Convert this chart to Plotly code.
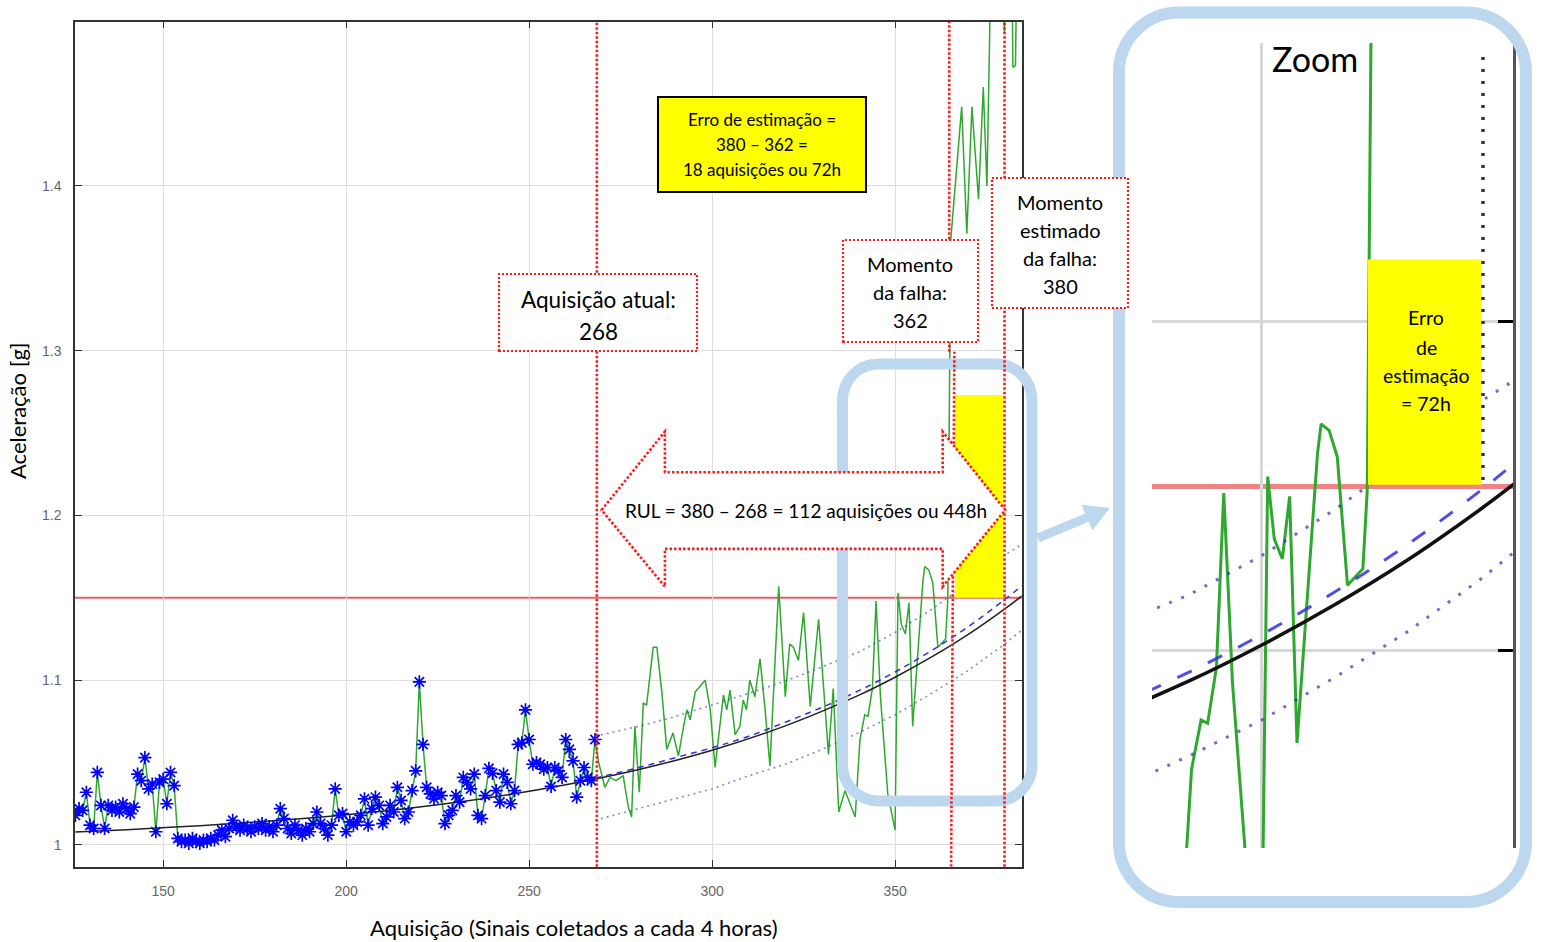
import plotly.graph_objects as go

W, H = 1541, 942
FONT = "Lato"

# ---------------- data ----------------
# measured acquisitions 126..268 (blue asterisks + green line)
meas_y = [
    1.018, 1.022, 1.021, 1.032, 1.012, 1.010, 1.044, 1.024, 1.010, 1.024,
    1.021, 1.023, 1.020, 1.025, 1.022, 1.019, 1.023, 1.043, 1.039, 1.053,
    1.034, 1.037, 1.008, 1.038, 1.040, 1.025, 1.044, 1.036, 1.004, 1.002,
    1.003, 1.001, 1.004, 1.002, 1.001, 1.003, 1.002, 1.004, 1.003, 1.006,
    1.009, 1.005, 1.010, 1.015, 1.011, 1.009, 1.012, 1.010, 1.008, 1.011,
    1.010, 1.013, 1.009, 1.011, 1.008, 1.012, 1.022, 1.016, 1.010, 1.007,
    1.012, 1.009, 1.006, 1.010, 1.008, 1.013, 1.020, 1.013, 1.010, 1.006,
    1.012, 1.034, 1.018, 1.019, 1.008, 1.014, 1.012, 1.014, 1.018, 1.028,
    1.012, 1.022, 1.029, 1.024, 1.013, 1.017, 1.024, 1.020, 1.035, 1.027,
    1.016, 1.020, 1.033, 1.045, 1.099, 1.061, 1.035, 1.031, 1.028, 1.032,
    1.030, 1.013, 1.018, 1.021, 1.030, 1.026, 1.041, 1.038, 1.034, 1.043,
    1.018, 1.016, 1.030, 1.0465, 1.0435, 1.033, 1.026, 1.043, 1.038, 1.025,
    1.033, 1.061, 1.062, 1.082, 1.064, 1.049, 1.050, 1.049, 1.046, 1.047,
    1.0355, 1.047, 1.045, 1.041, 1.064, 1.058, 1.051, 1.029, 1.039, 1.047,
    1.041, 1.039, 1.064,
]
meas_x = list(range(126, 126 + len(meas_y)))

# actual signal after the current acquisition (green line only)
post_x = [269.0, 270.7, 272.1, 273.7, 275.7, 277.1, 278.0, 278.9, 280.1, 281.2,
          282.1, 283.9, 284.9, 286.3, 287.6, 289.3, 290.8, 292.2, 293.1, 294.0,
          295.4, 298.1, 299.5, 300.8, 302.2, 303.1, 304.0, 304.9, 306.3, 307.6,
          308.5, 309.4, 310.3, 311.7, 313.1, 314.4, 315.8, 316.7, 318.2, 320.0,
          321.2, 322.2, 323.6, 325.0, 326.8, 329.1, 330.5, 331.8, 333.1, 334.6,
          336.3, 339.1, 340.4, 341.7, 342.6, 343.8, 344.8, 346.0, 348.0, 350.0,
          350.8, 351.7, 352.8, 353.8, 354.8, 356.1, 357.6, 358.1, 359.2, 360.3,
          361.7, 363.8, 364.4, 365.2, 368.2, 369.6, 371.0, 372.8, 374.1, 375.1,
          376.4, 378.0, 379.9, 380.8, 381.8, 382.2, 382.9, 383.4, 384.5]
post_y = [1.050, 1.035, 1.041, 1.039, 1.042, 1.023, 1.017, 1.072, 1.032, 1.086,
          1.085, 1.120, 1.120, 1.092, 1.058, 1.068, 1.054, 1.072, 1.082, 1.076,
          1.093, 1.100, 1.082, 1.047, 1.076, 1.091, 1.082, 1.094, 1.067, 1.072,
          1.088, 1.082, 1.100, 1.090, 1.113, 1.084, 1.048, 1.088, 1.157, 1.090,
          1.122, 1.120, 1.112, 1.141, 1.084, 1.137, 1.096, 1.055, 1.095, 1.020,
          1.033, 1.017, 1.064, 1.079, 1.078, 1.095, 1.148, 1.090, 1.031, 1.009,
          1.153, 1.134, 1.128, 1.147, 1.072, 1.112, 1.160, 1.169, 1.167, 1.159,
          1.120, 1.125, 1.149, 1.367, 1.448, 1.371, 1.448, 1.392, 1.460, 1.400,
          1.560, 1.600, 1.493, 1.600, 1.560, 1.472, 1.473, 1.560, 1.620]

green_x = meas_x + post_x
green_y = meas_y + post_y

# exponential trend (black)
trend_x = [126, 140, 160, 180, 200, 220, 240, 260, 280, 300, 320, 340, 350, 360, 370, 380, 385]
trend_y = [1.0079, 1.0093, 1.0117, 1.0147, 1.0184, 1.0231, 1.0290, 1.0365, 1.0458, 1.0575,
           1.0723, 1.0908, 1.1018, 1.1141, 1.1278, 1.1433, 1.1517]

# prediction (blue dashed) and bounds (dotted)
pred_x = [268, 280, 290, 300, 310, 320, 330, 340, 350, 360, 370, 380, 385]
pred_y = [1.0405, 1.047, 1.053, 1.059, 1.066, 1.0745, 1.0835, 1.0935, 1.105, 1.118, 1.1325, 1.149, 1.158]
upper_y = [1.066, 1.072, 1.078, 1.085, 1.092, 1.0995, 1.108, 1.117, 1.129, 1.143, 1.159, 1.176, 1.183]
lower_y = [1.015, 1.022, 1.028, 1.034, 1.042, 1.049, 1.058, 1.068, 1.079, 1.092, 1.106, 1.122, 1.131]

threshold = 1.15
current_acq = 268.5
estimated_acq = 379.9

x_ticks = [150, 200, 250, 300, 350]
y_ticks = [1.0, 1.1, 1.2, 1.3, 1.4]
y_ticktext = ["1", "1.1", "1.2", "1.3", "1.4"]

# ---------------- helpers ----------------
def px(xp):
    return xp / W

def py(yp):
    return 1 - yp / H

def pt(xp, yp):
    return f"{xp / W:.5f},{1 - yp / H:.5f}"

def rrect(x0, y0, x1, y1, r):
    k = 0.5523 * r
    return (f"M {pt(x0 + r, y0)} L {pt(x1 - r, y0)} "
            f"C {pt(x1 - r + k, y0)} {pt(x1, y0 + r - k)} {pt(x1, y0 + r)} "
            f"L {pt(x1, y1 - r)} "
            f"C {pt(x1, y1 - r + k)} {pt(x1 - r + k, y1)} {pt(x1 - r, y1)} "
            f"L {pt(x0 + r, y1)} "
            f"C {pt(x0 + r - k, y1)} {pt(x0, y1 - r + k)} {pt(x0, y1 - r)} "
            f"L {pt(x0, y0 + r)} "
            f"C {pt(x0, y0 + r - k)} {pt(x0 + r - k, y0)} {pt(x0 + r, y0)} Z")

def txt(xp, yp, text, size, color="black"):
    return dict(x=px(xp), y=py(yp), xref="paper", yref="paper", text=text,
                showarrow=False, xanchor="center", yanchor="middle",
                font=dict(family=FONT, size=size, color=color))

GREEN = "#2ea82e"
BLUE_BOX = "#BDD7EE"
RED = "#ff1a1a"

fig = go.Figure()

# ---------------- main plot traces ----------------
fig.add_trace(go.Scatter(x=green_x, y=green_y, mode="lines",
                         line=dict(color=GREEN, width=1.5), xaxis="x", yaxis="y"))
fig.add_trace(go.Scatter(x=pred_x, y=upper_y, mode="lines",
                         line=dict(color="rgba(70,70,180,0.65)", width=1.6, dash="2px,4px"),
                         xaxis="x", yaxis="y"))
fig.add_trace(go.Scatter(x=pred_x, y=lower_y, mode="lines",
                         line=dict(color="rgba(70,70,180,0.65)", width=1.6, dash="2px,4px"),
                         xaxis="x", yaxis="y"))
fig.add_trace(go.Scatter(x=trend_x, y=trend_y, mode="lines",
                         line=dict(color="#222222", width=1.5, shape="spline"),
                         xaxis="x", yaxis="y"))
fig.add_trace(go.Scatter(x=pred_x, y=pred_y, mode="lines",
                         line=dict(color="rgb(50,50,210)", width=1.5, dash="6px,5px", shape="spline"),
                         xaxis="x", yaxis="y"))
fig.add_trace(go.Scatter(x=meas_x, y=meas_y, mode="markers",
                         marker=dict(symbol="asterisk-open", size=11, color="blue",
                                     line=dict(width=1.7, color="blue")),
                         xaxis="x", yaxis="y"))

# ---------------- zoom traces ----------------
fig.add_trace(go.Scatter(x=green_x, y=green_y, mode="lines",
                         line=dict(color=GREEN, width=3), xaxis="x2", yaxis="y2"))
fig.add_trace(go.Scatter(x=pred_x, y=upper_y, mode="lines",
                         line=dict(color="rgba(50,50,170,0.7)", width=3, dash="3px,10px"),
                         xaxis="x2", yaxis="y2"))
fig.add_trace(go.Scatter(x=pred_x, y=lower_y, mode="lines",
                         line=dict(color="rgba(50,50,170,0.7)", width=3, dash="3px,10px"),
                         xaxis="x2", yaxis="y2"))
fig.add_trace(go.Scatter(x=trend_x, y=trend_y, mode="lines",
                         line=dict(color="#111111", width=3.5, shape="spline"),
                         xaxis="x2", yaxis="y2"))
fig.add_trace(go.Scatter(x=pred_x, y=pred_y, mode="lines",
                         line=dict(color="rgba(50,50,220,0.85)", width=3, dash="16px,18px", shape="spline"),
                         xaxis="x2", yaxis="y2"))

# ---------------- shapes ----------------
shapes = []
shapes.append(dict(type="line", xref="x domain", yref="y", x0=0, x1=1, y0=threshold, y1=threshold,
                   line=dict(color="rgba(228,80,80,0.9)", width=2), layer="below"))
shapes.append(dict(type="line", xref="x2 domain", yref="y2", x0=0, x1=1, y0=threshold, y1=threshold,
                   line=dict(color="rgba(235,90,90,0.75)", width=5), layer="below"))
shapes.append(dict(type="rect", xref="x", yref="y", x0=366.4, x1=379.6, y0=threshold, y1=1.2731,
                   fillcolor="#ffff00", line=dict(width=0), layer="above"))
shapes.append(dict(type="rect", xref="x2", yref="y2", x0=364.5, x1=380.0, y0=1.1505, y1=1.219,
                   fillcolor="#ffff00", line=dict(width=0), layer="above"))
shapes.append(dict(type="line", xref="x2", yref="y2", x0=380.2, x1=380.2, y0=1.152, y1=1.282,
                   line=dict(color="#333333", width=3.5, dash="3px,9px"), layer="above"))
shapes.append(dict(type="path", xref="paper", yref="paper", path=rrect(842.5, 364, 1032, 801, 36),
                   line=dict(color=BLUE_BOX, width=11), layer="above"))
shapes.append(dict(type="path", xref="paper", yref="paper", path=rrect(1119, 12.5, 1526, 902, 60),
                   line=dict(color=BLUE_BOX, width=12), layer="above"))
arrow_pts = [(1036.3, 533.8), (1085.2, 513.4), (1081.5, 504.7), (1110, 508),
             (1092.3, 530.5), (1088.6, 521.8), (1039.7, 542.2)]
shapes.append(dict(type="path", xref="paper", yref="paper",
                   path="M " + " L ".join(pt(a, b) for a, b in arrow_pts) + " Z",
                   fillcolor=BLUE_BOX, line=dict(width=0), layer="above"))
dotred = dict(color=RED, width=2.6, dash="2.5px,2px")
shapes.append(dict(type="line", xref="x", yref="y domain", x0=current_acq, x1=current_acq, y0=0, y1=1,
                   line=dotred, layer="above"))
shapes.append(dict(type="line", xref="x", yref="y", x0=364.8, x1=364.8, y0=1.2994, y1=1.4997,
                   line=dotred, layer="above"))
shapes.append(dict(type="line", xref="x", yref="y", x0=365.3, x1=366.2, y0=0.9868, y1=1.2994,
                   line=dotred, layer="above"))
shapes.append(dict(type="line", xref="x", yref="y domain", x0=estimated_acq, x1=estimated_acq, y0=0, y1=1,
                   line=dotred, layer="above"))
boxline = dict(color=RED, width=2.2, dash="2px,2px")
for (x0, y0, x1, y1) in [(499, 274, 697, 351), (843, 240, 978, 342), (992, 178, 1128, 308)]:
    shapes.append(dict(type="rect", xref="paper", yref="paper", x0=px(x0), x1=px(x1), y0=py(y1), y1=py(y0),
                       fillcolor="white", line=boxline, layer="above"))
shapes.append(dict(type="rect", xref="paper", yref="paper", x0=px(658), x1=px(866), y0=py(192), y1=py(97),
                   fillcolor="#ffff00", line=dict(color="black", width=2), layer="above"))
rul = [(269.8, 1.2033), (287.1, 1.2509), (287.1, 1.2262), (363.0, 1.2262), (363.0, 1.2509),
       (380.1, 1.2033), (363.0, 1.1568), (363.0, 1.1797), (287.1, 1.1797), (287.1, 1.1568)]
shapes.append(dict(type="path", xref="x", yref="y",
                   path="M " + " L ".join(f"{a},{b}" for a, b in rul) + " Z",
                   fillcolor="white", line=dict(color=RED, width=2.6, dash="2.5px,2px"), layer="above"))

# ---------------- annotations ----------------
ann = []
ann += [txt(598, 300, "Aquisição atual:", 22.5), txt(598, 331, "268", 22.5)]
ann += [txt(762, 120, "Erro de estimação =", 17), txt(762, 145, "380 – 362 =", 17),
        txt(762, 170, "18 aquisições ou 72h", 17)]
ann += [txt(910, 264, "Momento", 20), txt(910, 292, "da falha:", 20), txt(910, 320, "362", 20)]
ann += [txt(1060, 202, "Momento", 20), txt(1060, 230, "estimado", 20),
        txt(1060, 258, "da falha:", 20), txt(1060, 286, "380", 20)]
ann += [txt(806, 510, "RUL = 380 – 268 = 112 aquisições ou 448h", 19)]
ann += [txt(1315, 59, "Zoom", 34)]
ann += [txt(1426, 318, "Erro", 19.5), txt(1426, 347, "de", 19.5), txt(1426, 375, "estimação", 19.5),
        txt(1426, 403, "= 72h", 19.5)]
ann += [txt(574, 927, "Aquisição (Sinais coletados a cada 4 horas)", 22)]
a = txt(17, 411, "Aceleração [g]", 22)
a["textangle"] = -90
ann.append(a)

tickfont = dict(family="Liberation Sans", size=14, color="#666666")

fig.update_layout(
    width=W, height=H, margin=dict(l=0, r=0, t=0, b=0),
    paper_bgcolor="white", plot_bgcolor="white", showlegend=False,
    shapes=shapes, annotations=ann,
    xaxis=dict(domain=[75 / W, 1021.7 / W], range=[125.9, 384.6], tickvals=x_ticks,
               showgrid=True, gridcolor="#dedede", gridwidth=1, zeroline=False,
               showline=True, linecolor="#333333", linewidth=1.5, mirror="ticks",
               ticks="inside", ticklen=7, tickcolor="#333333", tickfont=tickfont,
               ticklabelstandoff=11, anchor="y"),
    yaxis=dict(domain=[1 - 866.7 / H, 1 - 21.7 / H], range=[0.9868, 1.4997], tickvals=y_ticks,
               ticktext=y_ticktext, showgrid=True, gridcolor="#dedede", gridwidth=1, zeroline=False,
               showline=True, linecolor="#333333", linewidth=1.5, mirror="ticks",
               ticks="inside", ticklen=7, tickcolor="#333333", tickfont=tickfont,
               ticklabelstandoff=9, anchor="x"),
    xaxis2=dict(domain=[1152 / W, 1513 / W], range=[335.0, 384.3], tickvals=[350],
                showticklabels=False, ticks="", showgrid=True, gridcolor="#d8d8d8", gridwidth=2.5,
                zeroline=False, showline=False, anchor="y2"),
    yaxis2=dict(domain=[1 - 848 / H, 1 - 43 / H], range=[1.0401, 1.2848], tickvals=[1.1, 1.2],
                showticklabels=False, side="right", showline=True, linecolor="#555555", linewidth=3,
                ticks="inside", ticklen=15, tickwidth=3, tickcolor="black",
                showgrid=True, gridcolor="#d8d8d8", gridwidth=2.5, zeroline=False, anchor="x2"),
)

fig.write_html("out.html", config={"displayModeBar": False},
               post_script="document.body.style.margin='0';document.body.style.overflow='hidden';")
